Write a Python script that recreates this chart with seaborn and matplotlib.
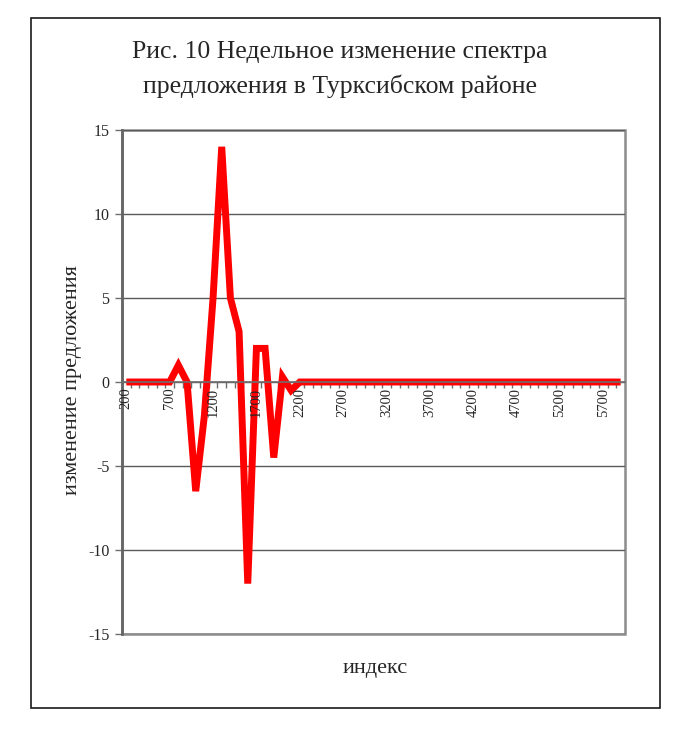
import numpy as np
import pandas as pd
import seaborn as sns
import matplotlib.pyplot as plt
from matplotlib.patches import Rectangle

# values
index_values = list(range(200, 6000, 100))
change_values = [
    0, 0, 0, 0, 0, 0, 1, 0, -6.5, -2,
    5, 14, 5, 3, -12, 2, 2, -4.5, 0.3, -0.5,
    0, 0, 0, 0, 0, 0, 0, 0, 0, 0,
    0, 0, 0, 0, 0, 0, 0, 0, 0, 0,
    0, 0, 0, 0, 0, 0, 0, 0, 0, 0,
    0, 0, 0, 0, 0, 0, 0, 0,
]
x_tick_labels = ['200', '700', '1200', '1700', '2200', '2700', '3200',
                 '3700', '4200', '4700', '5200', '5700']
y_ticks = [-15, -10, -5, 0, 5, 10, 15]

title_lines = ['Рис. 10 Недельное изменение спектра',
               'предложения в Турксибском районе']
x_label = 'индекс'
y_label = 'изменение предложения'


def main():
    sns.set_style('white')
    plt.rcParams['font.family'] = ['Liberation Serif', 'DejaVu Serif']
    plt.rcParams['axes.unicode_minus'] = False

    data = pd.DataFrame({'index': index_values, 'change': change_values})

    fig = plt.figure(figsize=(6.89, 7.45), dpi=100)
    ax = fig.add_axes([122 / 689, 1 - 634 / 745, 503 / 689, 504 / 745])

    # category axis crosses at zero; set before the ticks so they are kept
    for side in ['top', 'right']:
        ax.spines[side].set_visible(False)
    ax.spines['bottom'].set_position(('data', 0))
    ax.spines['bottom'].set_color('#6e6e6e')
    ax.spines['bottom'].set_linewidth(1.2)
    ax.spines['left'].set_color('#666666')
    ax.spines['left'].set_linewidth(2)

    sns.lineplot(data=data, x='index', y='change', color='#ff0000',
                 linewidth=5, ax=ax)
    line = ax.lines[0]
    line.set_solid_joinstyle('miter')
    line.set_solid_capstyle('butt')

    ax.set_xlim(150, 5950)
    ax.set_ylim(-15, 15)
    ax.set_xlabel('')
    ax.set_ylabel('')

    # horizontal grid under the line
    ax.set_yticks(y_ticks)
    ax.set_yticklabels([str(v) for v in y_ticks])
    ax.yaxis.grid(True, color='#5a5a5a', linewidth=1)
    ax.set_axisbelow(True)
    ax.tick_params(axis='y', direction='out', length=5, width=1,
                   color='#6e6e6e', pad=4, left=True, labelsize=11.5)

    # small category ticks stay under the red line
    ax.set_xticks([])
    ax.set_xticks(np.arange(250, 5950, 100), minor=True)
    ax.tick_params(axis='x', which='minor', direction='out', length=4,
                   width=1, color='#6e6e6e', bottom=True)

    # category labels drawn over the line, as in the original
    ax_lab = ax.twiny()
    ax_lab.set_xlim(ax.get_xlim())
    for side in ax_lab.spines:
        ax_lab.spines[side].set_visible(False)
    ax_lab.xaxis.set_ticks_position('bottom')
    ax_lab.spines['bottom'].set_position(('data', 0))
    ax_lab.set_xticks([int(t) for t in x_tick_labels])
    ax_lab.set_xticklabels(x_tick_labels)
    ax_lab.tick_params(axis='x', which='major', length=0, pad=4,
                       bottom=True, labelbottom=True, top=False,
                       labeltop=False, labelrotation=90, labelsize=10.5)

    # plot area border
    ax.add_patch(Rectangle((0, 0), 1, 1, transform=ax.transAxes, fill=False,
                           edgecolor='#8c8c8c', linewidth=1.8, clip_on=False,
                           zorder=0.5))

    fig.text(340 / 689, 1 - 52 / 745, title_lines[0], ha='center',
             va='center', fontsize=18.5)
    fig.text(340 / 689, 1 - 86 / 745, title_lines[1], ha='center',
             va='center', fontsize=18.5)
    fig.text(375 / 689, 1 - 668 / 745, x_label, ha='center', va='center',
             fontsize=16)
    fig.text(72 / 689, 1 - 380 / 745, y_label, ha='center', va='center',
             rotation=90, fontsize=16)

    # chart area frame
    fig.add_artist(Rectangle((31 / 689, 1 - 708 / 745), 629 / 689, 690 / 745,
                             transform=fig.transFigure, fill=False,
                             edgecolor='#1a1a1a', linewidth=1.2))

    fig.savefig('out.png', dpi=100)


if __name__ == '__main__':
    main()
